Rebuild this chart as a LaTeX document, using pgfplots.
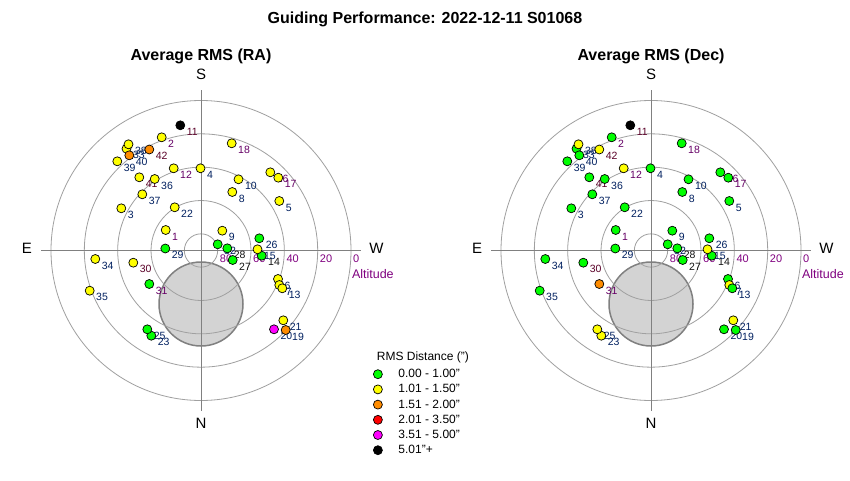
\documentclass[border=0pt]{standalone}
\usepackage{fontspec}
\setmainfont{Liberation Sans}
\usepackage{pgfplots}
\usepackage{pgfplotstable}
\pgfplotsset{compat=1.18}

\definecolor{cgreen}{RGB}{0,255,0}
\definecolor{cyellow}{RGB}{255,255,0}
\definecolor{corange}{RGB}{255,140,0}
\definecolor{cred}{RGB}{255,0,0}
\definecolor{cmag}{RGB}{255,0,255}
\definecolor{ringc}{RGB}{160,160,160}
\definecolor{axln}{RGB}{128,128,128}
\definecolor{moon}{RGB}{211,211,211}
\definecolor{altc}{RGB}{128,0,128}
\definecolor{lc1}{RGB}{0,32,96}
\definecolor{lc2}{RGB}{102,0,102}
\definecolor{lc3}{RGB}{20,20,20}
\definecolor{lc4}{RGB}{90,0,40}

% target positions, offset from the zenith (1 unit = 1/1.667 deg)
% ra / dec = colour class of the RMS, lc = label colour
\pgfplotstableread{
lbl dx dy ra dec lc
1 -35.3 20.5 Y G 2
2 -39.3 113.2 Y G 2
3 -79.7 42.2 Y G 1
4 -0.5 82.2 Y G 1
5 78.3 49.5 Y G 1
6 77.0 -28.5 Y G 1
7 78.3 -34.5 Y Y 1
8 31.3 58.5 Y G 1
9 21.3 19.8 Y G 1
10 37.5 71.2 Y G 1
11 -20.7 125.2 K K 4
12 -27.3 82.2 Y Y 2
13 81.3 -37.8 Y G 1
14 60.7 -5.2 G G 3
15 56.5 1.2 Y Y 1
16 69.3 78.2 Y G 2
17 77.3 72.8 Y G 2
18 30.7 107.2 Y G 2
19 84.7 -79.5 O G 1
20 73.0 -78.8 M G 1
21 82.3 -69.8 Y Y 1
22 -26.3 43.2 Y G 1
23 -49.7 -85.2 G Y 1
25 -53.7 -78.8 G Y 1
26 58.3 12.2 G G 1
27 31.7 -9.5 G G 3
28 26.3 2.2 G G 3
29 -35.7 2.0 G G 1
30 -67.7 -12.2 Y G 4
31 -51.7 -33.5 G O 2
32 16.7 6.2 G G 1
33 -74.5 101.8 Y G 1
34 -105.7 -8.5 Y G 1
35 -111.3 -40.2 Y G 1
36 -46.3 71.5 Y G 1
37 -58.7 56.2 Y G 1
38 -72.5 106.2 Y Y 1
39 -83.7 89.2 Y G 1
40 -71.7 95.2 O G 1
41 -61.7 73.2 Y G 4
42 -51.7 101.0 O Y 4
}\pts

\newcommand\ftick{\fontsize{11}{13}\selectfont}
\newcommand\fdir{\fontsize{15}{18}\selectfont}
\newcommand\fttl{\bfseries\fontsize{16}{19}\selectfont}

\pgfplotsset{
  sky/.style={x=1pt, y=1pt, xmin=-180, xmax=180, ymin=-180, ymax=180,
    hide axis, clip=false, anchor=center},
  lbls/.style={forget plot, only marks, mark=*, mark options={draw=none, fill=none},
    nodes near coords={\pgfmathtruncatemacro\k{\lc}\pgfmathtruncatemacro\n{\lbl}\textcolor{lc\k}{\n}},
    visualization depends on={\thisrow{lbl}\as\lbl},
    visualization depends on={\thisrow{lc}\as\lc},
    every node near coord/.append style={anchor=base west, inner sep=0pt,
      xshift=6.3pt, yshift=-10pt, font=\fontsize{10.5}{12}\selectfont}},
  dots/.style={forget plot, scatter, only marks, scatter src=explicit symbolic,
    mark size=4.5pt,
    scatter/classes={
      G={mark=*, fill=cgreen, draw=black, line width=0.7pt},
      Y={mark=*, fill=cyellow, draw=black, line width=0.7pt},
      O={mark=*, fill=corange, draw=black, line width=0.7pt},
      R={mark=*, fill=cred, draw=black, line width=0.7pt},
      M={mark=*, fill=cmag, draw=black, line width=0.7pt},
      K={mark=*, fill=black, draw=black, line width=0.7pt}}},
}

\newcommand\skygrid{%
  \filldraw[fill=moon, draw=axln, line width=1.5pt] (axis cs:0,-53.5) circle[radius=42pt];
  \draw[ringc, line width=0.8pt] (axis cs:0,0) circle[radius=16.67pt];
  \draw[ringc, line width=0.8pt] (axis cs:0,0) circle[radius=50pt];
  \draw[ringc, line width=0.8pt] (axis cs:0,0) circle[radius=83.33pt];
  \draw[ringc, line width=0.8pt] (axis cs:0,0) circle[radius=116.67pt];
  \draw[ringc, line width=0.8pt] (axis cs:0,0) circle[radius=150pt];
  \draw[axln, line width=0.8pt] (axis cs:-160,0) -- (axis cs:160,0);
  \draw[axln, line width=0.8pt] (axis cs:0,-160) -- (axis cs:0,160);
  \node[anchor=base west, inner sep=0pt, text=altc, font=\ftick] at (axis cs:18.7,-11.7) {80};
  \node[anchor=base west, inner sep=0pt, text=altc, font=\ftick] at (axis cs:52,-11.7) {60};
  \node[anchor=base west, inner sep=0pt, text=altc, font=\ftick] at (axis cs:85.3,-11.7) {40};
  \node[anchor=base west, inner sep=0pt, text=altc, font=\ftick] at (axis cs:118.7,-11.7) {20};
  \node[anchor=base west, inner sep=0pt, text=altc, font=\ftick] at (axis cs:152,-11.7) {0};
  \node[anchor=base west, inner sep=0pt, text=altc, font=\fontsize{12.5}{14}\selectfont] at (axis cs:150.8,-27.5) {Altitude};
  \node[anchor=base, inner sep=0pt, font=\fdir] at (axis cs:0,171.1) {S};
  \node[anchor=base, inner sep=0pt, font=\fdir] at (axis cs:0,-177.9) {N};
  \node[anchor=base, inner sep=0pt, font=\fdir] at (axis cs:-174,-2.9) {E};
  \node[anchor=base, inner sep=0pt, font=\fdir] at (axis cs:175.5,-2.9) {W};
}

\begin{document}
\begin{tikzpicture}
\useasboundingbox (0pt,0pt) rectangle (850pt,480pt);
\fill[white] (0pt,0pt) rectangle (850pt,480pt);
\node[anchor=base, inner sep=0pt, font=\fttl] at (425pt,456.5pt) {Guiding Performance: 2022-12-11 S01068};
\node[anchor=base, inner sep=0pt, font=\fttl] at (201pt,419.3pt) {Average RMS (RA)};
\node[anchor=base, inner sep=0pt, font=\fttl] at (651pt,419.3pt) {Average RMS (Dec)};

\begin{axis}[sky, at={(201pt,229.5pt)},
    legend style={at={(0.9769,0.1736)}, anchor=north west, draw=none, fill=none,
      inner sep=0pt, row sep=3.2pt, column sep=0pt,
      font=\fontsize{12}{14}\selectfont, nodes={inner sep=1pt}},
    legend cell align=left,
    legend image code/.code={\path[draw=none, fill=none] (0pt,-6pt) rectangle (24.6pt,6pt);
      \draw[#1] plot coordinates {(5pt,0pt)};}]
  \skygrid
  \addplot[lbls] table[x=dx, y=dy] {\pts};
  \addplot[dots] table[x=dx, y=dy, meta=ra] {\pts};
  \node[anchor=base west, inner sep=0pt, font=\fontsize{12}{14}\selectfont] at (axis cs:175.7,-109.8) {RMS Distance (")};
  \addlegendimage{only marks, mark=*, mark size=4.5pt, mark options={fill=cgreen, draw=black, line width=0.7pt}}
  \addlegendentry{0.00 - 1.00"}
  \addlegendimage{only marks, mark=*, mark size=4.5pt, mark options={fill=cyellow, draw=black, line width=0.7pt}}
  \addlegendentry{1.01 - 1.50"}
  \addlegendimage{only marks, mark=*, mark size=4.5pt, mark options={fill=corange, draw=black, line width=0.7pt}}
  \addlegendentry{1.51 - 2.00"}
  \addlegendimage{only marks, mark=*, mark size=4.5pt, mark options={fill=cred, draw=black, line width=0.7pt}}
  \addlegendentry{2.01 - 3.50"}
  \addlegendimage{only marks, mark=*, mark size=4.5pt, mark options={fill=cmag, draw=black, line width=0.7pt}}
  \addlegendentry{3.51 - 5.00"}
  \addlegendimage{only marks, mark=*, mark size=4.5pt, mark options={fill=black, draw=black, line width=0.7pt}}
  \addlegendentry{5.01"+}
\end{axis}

\begin{axis}[sky, at={(651pt,229.5pt)}]
  \skygrid
  \addplot[lbls] table[x=dx, y=dy] {\pts};
  \addplot[dots] table[x=dx, y=dy, meta=dec] {\pts};
\end{axis}
\end{tikzpicture}
\end{document}
